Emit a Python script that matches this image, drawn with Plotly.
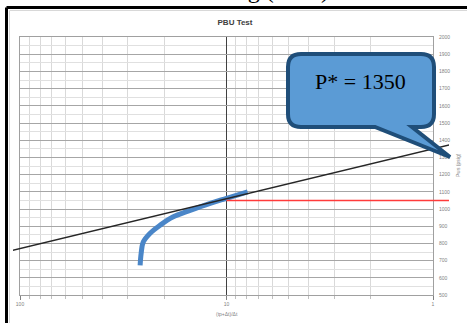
import plotly.graph_objects as go

# ---------------- data ----------------
horner_time = [26.2, 25.9, 25.3, 23.5, 21.0, 18.2, 15.0, 12.0, 10.0, 7.9]
pws_psig = [672, 742, 808, 858, 905, 953, 992, 1033, 1062, 1099]

line_horner = [200, 0.5]        # semilog straight line through P*
line_pws = [683, 1437]

red_horner = [10, 0.5]
red_pws = [1050, 1050]

x_tick_vals = [100, 10, 1]
x_tick_text = ["100", "10", "1"]
x_minor_vals = [20, 30, 40, 50, 60, 70, 80, 90, 2, 3, 4, 5, 6, 7, 8, 9]

title_text = "PBU Test"
x_title = "(tp+Δt)/Δt"
y_title = "Pws (psig)"
callout_text = "P* = 1350"

# ---------------- layout helpers ----------------
W, H = 467, 323
def px(x):
    return x / W
def py(y):
    return 1 - y / H

L, R, T, B = 20, 433, 37, 295
PPD = (R - L) / 2.0  # pixels per decade
X2L, X2R = 13, 449

fig = go.Figure()

fig.add_trace(go.Scatter(
    x=horner_time, y=pws_psig, mode="lines", line=dict(color="#4A86C8", width=5, shape="spline"),
    xaxis="x", yaxis="y", showlegend=False, hoverinfo="skip"))
fig.add_trace(go.Scatter(
    x=line_horner, y=line_pws, mode="lines", line=dict(color="#262626", width=1.5),
    xaxis="x2", yaxis="y2", showlegend=False, hoverinfo="skip"))
fig.add_trace(go.Scatter(
    x=red_horner, y=red_pws, mode="lines", line=dict(color="#FF3B3B", width=1.5),
    xaxis="x2", yaxis="y2", showlegend=False, hoverinfo="skip"))

tickfont = dict(family="Liberation Sans, Arial", size=5, color="#7f7f7f")

fig.update_layout(
    width=W, height=H, autosize=False,
    margin=dict(l=0, r=0, t=0, b=0, pad=0, autoexpand=False),
    paper_bgcolor="white", plot_bgcolor="rgba(0,0,0,0)",
    title=dict(text="<b>%s</b>" % title_text, x=px(235), y=py(22), xanchor="center", yanchor="middle",
               automargin=False,
               font=dict(family="Liberation Sans, Arial", size=8, color="#404040")),
    xaxis=dict(type="log", range=[2, 0], domain=[px(L), px(R)], anchor="y", automargin=False,
               tickmode="array", tickvals=x_tick_vals, ticktext=x_tick_text, tickfont=tickfont,
               showgrid=True, gridcolor="#404040", gridwidth=1,
               ticks="outside", ticklen=4, tickcolor="#808080",
               minor=dict(tickmode="array", tickvals=x_minor_vals, showgrid=True, gridcolor="#d9d9d9",
                          ticks="outside", ticklen=3, tickcolor="#c0c0c0"),
               showline=True, linecolor="#a0a0a0", mirror=True, zeroline=False),
    yaxis=dict(range=[500, 2000], domain=[py(B), py(T)], anchor="x", side="right", automargin=False,
               tick0=500, dtick=100, tickformat="d", tickfont=tickfont, ticks="",
               ticklabelstandoff=4,
               showgrid=True, gridcolor="#a6a6a6", gridwidth=1,
               minor=dict(dtick=50, showgrid=True, gridcolor="#e0e0e0"),
               showline=True, linecolor="#a0a0a0", mirror=True, zeroline=False),
    xaxis2=dict(type="log", domain=[px(X2L), px(X2R)], anchor="y2", automargin=False,
                range=[2 + (L - X2L) / PPD, -(X2R - R) / PPD], visible=False, showgrid=False),
    yaxis2=dict(range=[500, 2000], domain=[py(B), py(T)], anchor="x2", automargin=False,
                visible=False, showgrid=False),
)

# axis titles
fig.add_annotation(text=x_title, x=px(227), y=py(314), xref="paper", yref="paper", showarrow=False,
                   xanchor="center", yanchor="middle",
                   font=dict(family="Liberation Sans, Arial", size=5, color="#7f7f7f"))
fig.add_annotation(text=y_title, x=px(458), y=py(165), xref="paper", yref="paper", showarrow=False,
                   xanchor="center", yanchor="middle",
                   textangle=-90, font=dict(family="Liberation Sans, Arial", size=5, color="#7f7f7f"))

# frame of the pasted picture
fig.add_shape(type="line", xref="paper", yref="paper", x0=px(6.5), y0=py(7.5), x1=px(480), y1=py(7.5),
              line=dict(color="black", width=3))
fig.add_shape(type="line", xref="paper", yref="paper", x0=px(6.5), y0=py(7.5), x1=px(6.5), y1=py(340),
              line=dict(color="black", width=3))
fig.add_shape(type="line", xref="paper", yref="paper", x0=px(9.5), y0=py(10.5), x1=px(480), y1=py(10.5),
              line=dict(color="#d8d8d8", width=1))
fig.add_shape(type="line", xref="paper", yref="paper", x0=px(9.5), y0=py(10.5), x1=px(9.5), y1=py(340),
              line=dict(color="#d8d8d8", width=1))

# callout bubble
bl, br, bt, bb, rr = 288, 434, 54, 127, 13
pts = [
    ("M", (bl + rr, bt)), ("L", (br - rr, bt)), ("Q", (br, bt), (br, bt + rr)),
    ("L", (br, bb - rr)), ("Q", (br, bb), (br - rr, bb)),
    ("L", (412, bb)), ("L", (450, 157)), ("L", (375, bb)),
    ("L", (bl + rr, bb)), ("Q", (bl, bb), (bl, bb - rr)),
    ("L", (bl, bt + rr)), ("Q", (bl, bt), (bl + rr, bt)),
]
path = ""
for p in pts:
    cmd = p[0]
    coords = " ".join("%.5f,%.5f" % (px(a), py(b)) for a, b in p[1:])
    path += "%s %s " % (cmd, coords)
path += "Z"
fig.add_shape(type="path", xref="paper", yref="paper", path=path,
              fillcolor="#5B9BD5", line=dict(color="#1F4E79", width=4))
fig.add_annotation(text=callout_text, x=px(360), y=py(81), xref="paper", yref="paper", showarrow=False,
                   xanchor="center", yanchor="middle",
                   font=dict(family="Liberation Serif, Times New Roman", size=22, color="black"))

# cut-off slide heading above the picture
fig.add_annotation(text="Horner Plot Matching (cont.)", x=px(331), y=py(5), xref="paper", yref="paper",
                   xanchor="right", yanchor="bottom", showarrow=False,
                   font=dict(family="Liberation Serif, Times New Roman", size=24, color="black"))

fig.write_html("out.html", config={"displayModeBar": False},
               post_script="document.body.style.margin='0';document.body.style.padding='0';")
